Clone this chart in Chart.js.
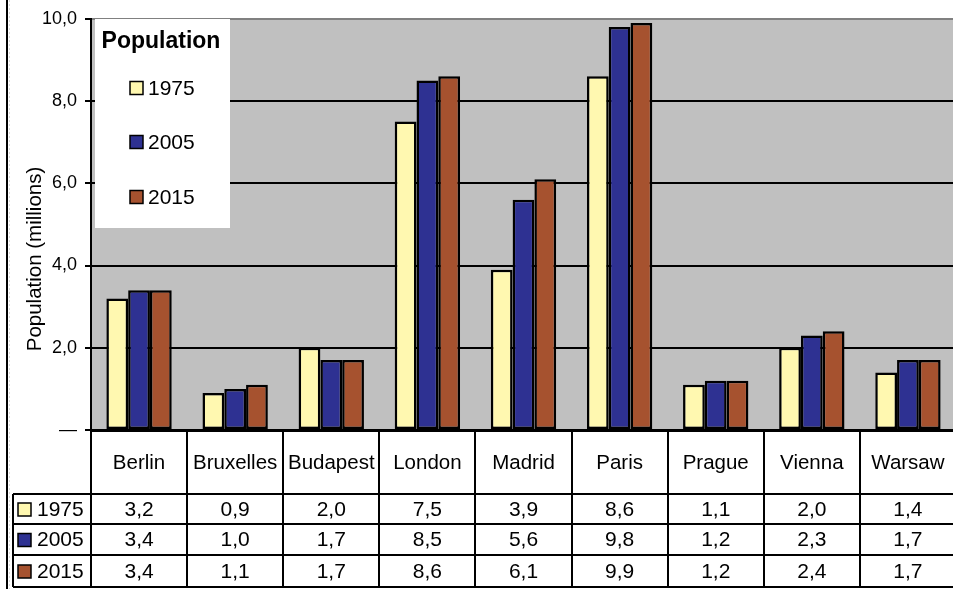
<!DOCTYPE html>
<html><head><meta charset="utf-8">
<script src="https://cdn.jsdelivr.net/npm/chart.js@4/dist/chart.umd.min.js"></script>
<style>html,body{margin:0;padding:0;background:#fff;overflow:hidden;width:953px;height:589px}#wrap{position:absolute;left:0;top:0;width:956px;height:589px}</style>
</head><body><div id="wrap"><canvas id="c" width="956" height="589"></canvas></div>
<script>
const categories = ['Berlin','Bruxelles','Budapest','London','Madrid','Paris','Prague','Vienna','Warsaw'];
const seriesNames = ['1975','2005','2015'];
const pop1975 = [3.2,0.9,2.0,7.5,3.9,8.6,1.1,2.0,1.4];
const pop2005 = [3.4,1.0,1.7,8.5,5.6,9.8,1.2,2.3,1.7];
const pop2015 = [3.4,1.1,1.7,8.6,6.1,9.9,1.2,2.4,1.7];
const yTickValues = [0,2,4,6,8,10];
const yTitle = 'Population (millions)';
const legendTitle = 'Population';
const colors = ['#FFF8B0','#2E3192','#A6522F'];
const seriesValues = [pop1975, pop2005, pop2015];

const FONT = '"Liberation Sans", Arial, sans-serif';
const fmt = v => v === 0 ? '\u2014' : v.toFixed(1).replace('.', ',');

const overlay = {
  id: 'overlay',
  beforeDraw(chart) {
    const {ctx, chartArea: a} = chart;
    ctx.save();
    ctx.fillStyle = '#C0C0C0';
    ctx.fillRect(a.left, a.top, a.right - a.left, a.bottom - a.top);
    ctx.restore();
  },
  afterDraw(chart) {
    const {ctx, chartArea: a} = chart;
    const x = chart.scales.x;
    const n = categories.length;
    const colW = (a.right - a.left) / n;
    ctx.save();
    // legend box
    ctx.fillStyle = '#fff';
    ctx.fillRect(95, 19, 135, 209);
    ctx.fillStyle = '#000';
    ctx.textBaseline = 'middle';
    ctx.textAlign = 'center';
    ctx.font = 'bold 23px ' + FONT;
    ctx.fillText(legendTitle, 161, 42);
    const ly = [88, 142, 197];
    ctx.font = '21px ' + FONT;
    ctx.textAlign = 'left';
    chart.data.datasets.forEach((ds, i) => {
      ctx.fillStyle = ds.backgroundColor;
      ctx.fillRect(130, ly[i] - 6.5, 13, 13);
      ctx.strokeStyle = '#000'; ctx.lineWidth = 1.5;
      ctx.strokeRect(130, ly[i] - 6.5, 13, 13);
      ctx.fillStyle = '#000';
      ctx.fillText(ds.label, 148, ly[i] + 1);
    });
    // table
    const rowY = [a.bottom + 1, 494, 524, 555, 587];
    ctx.strokeStyle = '#000'; ctx.lineWidth = 2;
    ctx.beginPath();
    ctx.moveTo(a.left, rowY[0]); ctx.lineTo(a.right, rowY[0]);
    for (let r = 1; r < rowY.length; r++) { ctx.moveTo(13, rowY[r]); ctx.lineTo(a.right, rowY[r]); }
    ctx.moveTo(13, rowY[1]); ctx.lineTo(13, rowY[4]);
    for (let i = 0; i <= n; i++) {
      const xx = Math.round(x.getPixelForValue(i) - colW / 2);
      ctx.moveTo(xx, rowY[0]); ctx.lineTo(xx, rowY[4]);
    }
    ctx.stroke();
    ctx.fillStyle = '#000';
    ctx.font = '20.5px ' + FONT;
    ctx.textAlign = 'center';
    categories.forEach((c, i) => {
      ctx.fillText(c, x.getPixelForValue(i), (rowY[0] + rowY[1]) / 2 + 1);
    });
    ctx.font = '21px ' + FONT;
    seriesValues.forEach((vals, r) => {
      const cy = (rowY[r + 1] + rowY[r + 2]) / 2 + 1;
      vals.forEach((v, i) => {
        ctx.fillStyle = '#000';
        ctx.textAlign = 'center';
        ctx.fillText(fmt(v), x.getPixelForValue(i), cy);
      });
      ctx.fillStyle = colors[r];
      ctx.fillRect(18, cy - 7, 13, 13);
      ctx.lineWidth = 1.5;
      ctx.strokeRect(18, cy - 7, 13, 13);
      ctx.fillStyle = '#000';
      ctx.textAlign = 'left';
      ctx.fillText(seriesNames[r], 37, cy);
    });
    // left border
    ctx.lineWidth = 2;
    ctx.beginPath(); ctx.moveTo(7, 0); ctx.lineTo(7, 589); ctx.stroke();
    ctx.strokeStyle = '#ddd'; ctx.lineWidth = 1; ctx.setLineDash([2, 2]);
    ctx.beginPath(); ctx.moveTo(9.5, 0); ctx.lineTo(9.5, 589); ctx.stroke();
    ctx.setLineDash([]);
    // y title
    ctx.translate(35, 259);
    ctx.rotate(-Math.PI / 2);
    ctx.fillStyle = '#000';
    ctx.textAlign = 'center';
    ctx.font = '20.5px ' + FONT;
    ctx.fillText(yTitle, 0, 0);
    ctx.restore();
  }
};

new Chart(document.getElementById('c'), {
  type: 'bar',
  data: {
    labels: categories,
    datasets: seriesNames.map((s, i) => ({
      label: s, data: seriesValues[i], backgroundColor: colors[i],
      borderColor: '#000', borderWidth: 2.5, borderSkipped: false,
      categoryPercentage: 0.68, barPercentage: 1.0
    }))
  },
  options: {
    responsive: false, animation: false, devicePixelRatio: 1,
    layout: {padding: {left: 0, top: 17, right: 0, bottom: 159}},
    plugins: {legend: {display: false}, tooltip: {enabled: false}},
    scales: {
      x: {display: false},
      y: {
        min: 0, max: 10,
        afterFit(s) { s.width = 91; },
        afterBuildTicks(s) { s.ticks = yTickValues.map(v => ({value: v})); },
        ticks: {callback: v => fmt(v), color: '#000', padding: 8, font: {family: FONT, size: 18}},
        grid: {
          color: c => (c.tick && c.tick.value === 10) ? '#808080' : '#000',
          lineWidth: 2, tickLength: 6, tickColor: '#000', drawTicks: true
        },
        border: {display: true, color: '#000', width: 2}
      }
    }
  },
  plugins: [overlay]
});
</script></body></html>
